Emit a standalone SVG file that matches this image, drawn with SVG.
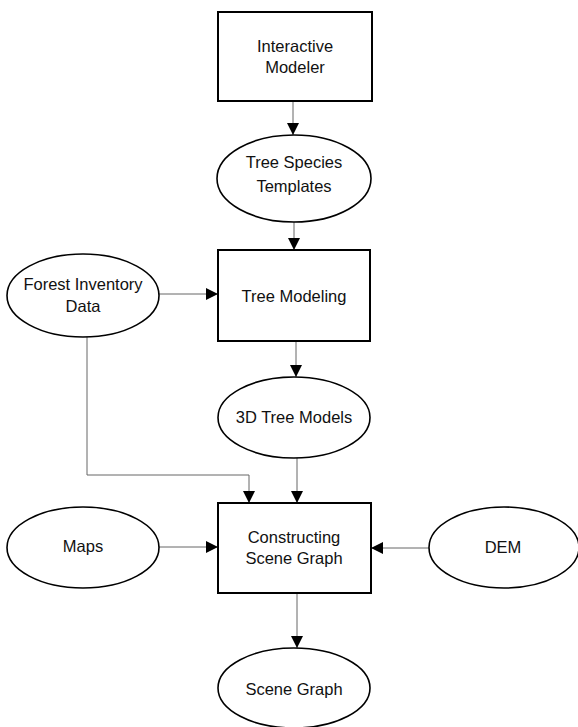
<svg xmlns="http://www.w3.org/2000/svg" width="578" height="727" viewBox="0 0 578 727">
<defs>
<marker id="arr" markerUnits="userSpaceOnUse" markerWidth="12" markerHeight="12" refX="12" refY="6" orient="auto">
<path d="M0,0 L12,6 L0,12 Z" fill="#000"/>
</marker>
<style>
.box{fill:#fff;stroke:#000;stroke-width:2}
.ell{fill:#fff;stroke:#000;stroke-width:1.6}
.con{fill:none;stroke:#666;stroke-width:1}
text{font-family:"Liberation Sans",Arial,sans-serif;font-size:16.5px;fill:#111;text-anchor:middle}
</style>
</defs>
<rect width="578" height="727" fill="#fff"/>
<g id="connectors">
<line class="con" x1="293" y1="101" x2="293" y2="135" marker-end="url(#arr)"/>
<line class="con" x1="294" y1="222" x2="294" y2="250" marker-end="url(#arr)"/>
<line class="con" x1="159" y1="294" x2="218" y2="294" marker-end="url(#arr)"/>
<line class="con" x1="296" y1="341" x2="296" y2="377" marker-end="url(#arr)"/>
<polyline class="con" points="87,337 87,475 249,475 249,503" marker-end="url(#arr)"/>
<line class="con" x1="297" y1="458" x2="297" y2="503" marker-end="url(#arr)"/>
<line class="con" x1="159" y1="547" x2="218" y2="547" marker-end="url(#arr)"/>
<line class="con" x1="429" y1="548" x2="371" y2="548" marker-end="url(#arr)"/>
<line class="con" x1="297" y1="593" x2="297" y2="648" marker-end="url(#arr)"/>
</g>
<g id="interactive-modeler">
<rect class="box" x="218" y="12" width="154" height="89"/>
<text x="295" y="51.5">Interactive</text>
<text x="295" y="73">Modeler</text>
</g>
<g id="tree-species-templates">
<ellipse class="ell" cx="294" cy="178.5" rx="77" ry="43.5"/>
<text x="294" y="168">Tree Species</text>
<text x="294" y="192">Templates</text>
</g>
<g id="tree-modeling">
<rect class="box" x="218" y="250" width="152" height="91"/>
<text x="294" y="302">Tree Modeling</text>
</g>
<g id="forest-inventory-data">
<ellipse class="ell" cx="83" cy="295.5" rx="76" ry="41.5"/>
<text x="83" y="290">Forest Inventory</text>
<text x="83" y="312">Data</text>
</g>
<g id="tree-models-3d">
<ellipse class="ell" cx="294" cy="417.5" rx="76" ry="40.5"/>
<text x="294" y="423">3D Tree Models</text>
</g>
<g id="constructing-scene-graph">
<rect class="box" x="218" y="503" width="153" height="90"/>
<text x="294" y="543">Constructing</text>
<text x="294" y="564">Scene Graph</text>
</g>
<g id="maps">
<ellipse class="ell" cx="83" cy="547.5" rx="76" ry="40.5"/>
<text x="83" y="552">Maps</text>
</g>
<g id="dem">
<ellipse class="ell" cx="504" cy="547.5" rx="75" ry="40.5"/>
<text x="503" y="553">DEM</text>
</g>
<g id="scene-graph">
<ellipse class="ell" cx="294" cy="688" rx="76" ry="40"/>
<text x="294" y="695">Scene Graph</text>
</g>
</svg>
